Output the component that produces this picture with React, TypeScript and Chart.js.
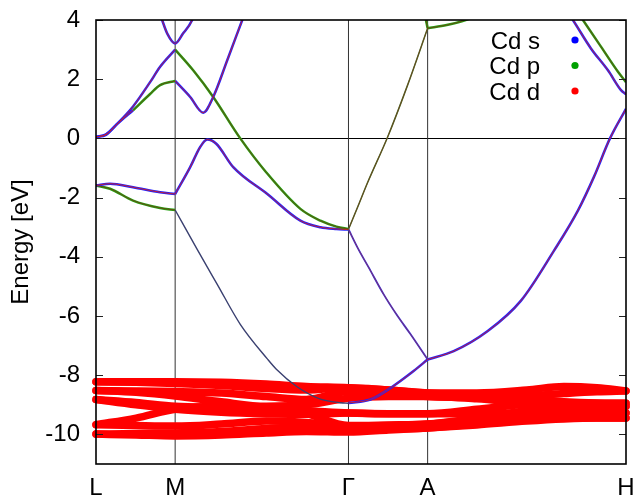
import React, { useEffect, useRef } from 'react';
import { Chart, registerables } from 'chart.js';

Chart.register(...registerables);

const FONT = "'Liberation Sans', Arial, Helvetica, sans-serif";

// symmetry points along the k-path
const symLabels = ['L', 'M', 'Γ', 'A', 'H'];
const symK = [0, 79, 252, 331, 529];
const yTicks = [4, 2, 0, -2, -4, -6, -8, -10];

const legendLabels = ['Cd s', 'Cd p', 'Cd d'];
const legendColors = ['#0000ff', '#00a000', '#ff0000'];

// thin (s/p character) bands, [k, E]
const bandA_L1 = [[0, 0.05], [10, 0.12], [21, 0.48], [37, 0.95]];
const bandA_L2 = [[37, 0.95], [54, 1.5], [64, 1.8], [79, 1.94]];
const bandA_MG = [[79, 1.94], [94, 1.4], [107, 0.87], [117, 1.4], [131, 2.64], [146, 4.0], [150, 4.36]];
const bandB_LM = [[0, 0.05], [10, 0.14], [21, 0.49], [37, 1.08], [54, 1.9], [64, 2.42], [79, 3.0]];
const bandB_MG = [[79, 3.0], [97, 2.3], [117, 1.4], [144, 0.0], [170, -1.15], [204, -2.38], [224, -2.78], [240, -2.98], [252, -3.06]];
const bandC_LM = [[0, -1.59], [14, -1.53], [37, -1.65], [64, -1.82], [79, -1.88]];
const bandC_MG = [[79, -1.88], [94, -0.97], [104, -0.29], [111, -0.04], [120, -0.18], [137, -0.97], [171, -1.88], [204, -2.78], [224, -3.0], [240, -3.06], [252, -3.08]];
const bandD_LM = [[0, -1.59], [14, -1.7], [37, -2.1], [64, -2.35], [79, -2.42]];
const bandD_MG = [[79, -2.42], [101, -3.75], [121, -4.93], [144, -6.28], [171, -7.45], [180, -7.8], [201, -8.4], [222, -8.78], [244, -8.93], [252, -8.95]];
const bandE_GA = [[252, -3.07], [262, -2.25], [271, -1.5], [291, 0.04], [311, 1.8], [331, 3.72]];
const bandE_AH = [[331, 3.72], [350, 3.83], [369, 4.0], [390, 4.3]];
const bandF_A = [[327.5, 4.3], [331, 3.72]];
const bandG_GA = [[252, -3.07], [262, -3.75], [272, -4.35], [287, -5.26], [300, -5.95], [314, -6.62], [331, -7.47]];
const bandH_GA = [[252, -8.94], [274, -8.82], [294, -8.43], [317, -7.86], [331, -7.47]];
const bandI_AH = [[331, -7.47], [357, -7.19], [391, -6.51], [424, -5.49], [457, -3.8], [481, -2.44], [497, -1.3], [513, 0.0], [529, 1.0]];
const bandJ_H = [[470, 4.3], [476, 4.0], [494, 3.04], [511, 2.3], [524, 1.63], [529, 1.49]];
const bandK_H = [[480, 4.3], [486, 4.0], [504, 3.1], [521, 2.25], [529, 1.9]];
const bandL_M = [[62, 4.4], [66, 4.0], [71, 3.55], [79, 3.21], [87, 3.55], [96, 4.0], [100, 4.4]];

// Cd d bands (fat red), sampled at common k nodes
const dK = [0, 40, 79, 125, 170, 210, 252, 292, 331, 380, 430, 467, 500, 529];
const d1 = [-8.22, -8.22, -8.22, -8.24, -8.3, -8.38, -8.42, -8.5, -8.6, -8.6, -8.5, -8.38, -8.42, -8.53];
const d2 = [-8.22, -8.24, -8.28, -8.35, -8.45, -8.5, -8.42, -8.5, -8.6, -8.7, -8.82, -8.9, -8.94, -8.95];
const d3 = [-8.52, -8.53, -8.55, -8.6, -8.72, -8.82, -8.55, -8.62, -8.72, -8.75, -8.7, -8.62, -8.56, -8.53];
const d4 = [-8.52, -8.58, -8.7, -8.9, -9.05, -9.0, -8.78, -8.72, -8.72, -8.8, -8.95, -9.02, -9.05, -9.05];
const d5 = [-8.82, -8.92, -9.05, -9.1, -9.15, -9.2, -9.28, -9.3, -9.3, -9.15, -8.98, -8.95, -8.95, -8.95];
const d6 = [-8.82, -9.0, -9.15, -9.25, -9.3, -9.32, -9.28, -9.3, -9.3, -9.3, -9.28, -9.28, -9.28, -9.28];
const d7 = [-9.67, -9.45, -9.15, -9.05, -9.1, -9.3, -9.7, -9.68, -9.65, -9.45, -9.2, -9.1, -9.07, -9.05];
const d8 = [-9.67, -9.7, -9.72, -9.65, -9.55, -9.6, -9.72, -9.7, -9.65, -9.5, -9.35, -9.3, -9.28, -9.28];
const d9 = [-9.99, -9.97, -9.95, -9.9, -9.8, -9.75, -9.88, -9.82, -9.78, -9.65, -9.5, -9.45, -9.45, -9.45];
const d10 = [-9.99, -10.02, -10.05, -10.02, -9.95, -9.9, -9.92, -9.85, -9.78, -9.68, -9.55, -9.48, -9.45, -9.45];

const thinBands = [
  { pts: bandA_L1, style: 'blue' },
  { pts: bandA_L2, style: 'green' },
  { pts: bandA_MG, style: 'blue' },
  { pts: bandB_LM, style: 'blue' },
  { pts: bandB_MG, style: 'green' },
  { pts: bandC_LM, style: 'blue' },
  { pts: bandC_MG, style: 'blue' },
  { pts: bandD_LM, style: 'green' },
  { pts: bandD_MG, style: 'dark' },
  { pts: bandE_GA, style: 'olive' },
  { pts: bandE_AH, style: 'green' },
  { pts: bandF_A, style: 'green' },
  { pts: bandG_GA, style: 'blueThin' },
  { pts: bandH_GA, style: 'blue' },
  { pts: bandI_AH, style: 'blue' },
  { pts: bandJ_H, style: 'blue' },
  { pts: bandK_H, style: 'green' },
  { pts: bandL_M, style: 'blue' },
];
const dBands = [d1, d2, d3, d4, d5, d6, d7, d8, d9, d10];

const styles: Record<string, { outer: string; outerW: number; inner: string | null; innerW: number }> = {
  blue: { outer: '#2020ff', outerW: 2.5, inner: '#d02020', innerW: 0.9 },
  blueThin: { outer: '#3030e0', outerW: 1.8, inner: '#a03040', innerW: 0.7 },
  green: { outer: '#22a011', outerW: 2.5, inner: '#704010', innerW: 0.9 },
  dark: { outer: '#3a4070', outerW: 1.4, inner: null, innerW: 0 },
  olive: { outer: '#3c6a20', outerW: 1.5, inner: '#8a3020', innerW: 0.6 },
};

function buildDatasets() {
  const sets: any[] = [];
  const common = {
    type: 'line',
    pointRadius: 0,
    pointHoverRadius: 0,
    fill: false,
    cubicInterpolationMode: 'monotone',
  };
  thinBands.forEach((b) => {
    const st = styles[b.style];
    const data = b.pts.map(([x, y]) => ({ x, y }));
    sets.push({ ...common, data, borderColor: st.outer, borderWidth: st.outerW, order: 1 });
    if (st.inner) sets.push({ ...common, data, borderColor: st.inner, borderWidth: st.innerW, order: 0 });
  });
  dBands.forEach((arr) => {
    sets.push({
      ...common,
      data: arr.map((y, i) => ({ x: dK[i], y })),
      borderColor: '#ff0000',
      borderWidth: 7.5,
      borderCapStyle: 'round',
      borderJoinStyle: 'round',
      clip: { left: 5, right: 5, top: 0, bottom: 0 },
      order: 2,
    });
  });
  return sets;
}

const framePlugin = {
  id: 'bandFrame',
  beforeDatasetsDraw(chart: any) {
    const { ctx, chartArea: a, scales } = chart;
    const x = scales.x;
    const y = scales.y;
    ctx.save();
    ctx.strokeStyle = '#000';
    ctx.lineWidth = 1;
    const y0 = Math.round(y.getPixelForValue(0)) + 0.5;
    ctx.beginPath();
    ctx.moveTo(a.left, y0);
    ctx.lineTo(a.right, y0);
    ctx.stroke();
    ctx.strokeStyle = '#333';
    symK.slice(1, -1).forEach((k) => {
      const px = x.getPixelForValue(k);
      ctx.beginPath();
      ctx.moveTo(px, a.top);
      ctx.lineTo(px, a.bottom);
      ctx.stroke();
    });
    ctx.restore();
  },
  afterDatasetsDraw(chart: any) {
    const { ctx, chartArea: a, scales } = chart;
    const y = scales.y;
    ctx.save();
    ctx.strokeStyle = '#222';
    ctx.lineWidth = 1.2;
    yTicks.forEach((v) => {
      const py = Math.round(y.getPixelForValue(v)) + 0.5;
      ctx.beginPath();
      ctx.moveTo(a.left, py);
      ctx.lineTo(a.left + 7, py);
      ctx.moveTo(a.right, py);
      ctx.lineTo(a.right - 7, py);
      ctx.stroke();
    });
    ctx.strokeStyle = '#000';
    ctx.lineWidth = 1.6;
    ctx.strokeRect(a.left, a.top, a.right - a.left, a.bottom - a.top);
    // legend
    ctx.font = `24px ${FONT}`;
    ctx.textAlign = 'right';
    ctx.textBaseline = 'alphabetic';
    legendLabels.forEach((t, i) => {
      const yy = a.top + 20 + i * 25.5;
      ctx.fillStyle = '#000';
      ctx.fillText(t, a.right - 86, yy + 8.5);
      ctx.beginPath();
      ctx.arc(a.right - 51, yy, 3.6, 0, Math.PI * 2);
      ctx.fillStyle = legendColors[i];
      ctx.fill();
    });
    ctx.restore();
  },
};

export default function App() {
  const ref = useRef<HTMLCanvasElement>(null);
  useEffect(() => {
    document.body.style.margin = '0';
    const chart = new Chart(ref.current as HTMLCanvasElement, {
      type: 'line',
      data: { datasets: buildDatasets() },
      options: {
        responsive: false,
        animation: false,
        devicePixelRatio: 1,
        layout: { padding: { left: 0, top: 20, right: 9, bottom: 0 } },
        plugins: { legend: { display: false }, tooltip: { enabled: false } },
        scales: {
          x: {
            type: 'linear',
            min: 0,
            max: 529,
            grid: { display: false, drawTicks: false },
            border: { display: false },
            afterBuildTicks: (s: any) => {
              s.ticks = symK.map((v) => ({ value: v }));
            },
            afterFit: (s: any) => {
              s.height = 34;
              s.paddingLeft = 0;
              s.paddingRight = 0;
            },
            ticks: {
              autoSkip: false,
              maxRotation: 0,
              padding: 10,
              color: '#000',
              font: { family: FONT, size: 24 },
              callback: (v: any) => {
                const i = symK.indexOf(Number(v));
                return i >= 0 ? symLabels[i] : '';
              },
            },
          },
          y: {
            type: 'linear',
            min: -11,
            max: 4,
            grid: { display: false, drawTicks: false },
            border: { display: false },
            afterBuildTicks: (s: any) => {
              s.ticks = yTicks.map((v) => ({ value: v }));
            },
            afterFit: (s: any) => {
              s.width = 96;
              s.paddingTop = 0;
              s.paddingBottom = 0;
            },
            ticks: {
              padding: 16,
              color: '#000',
              font: { family: FONT, size: 24 },
              callback: (v: any) => String(v),
            },
            title: {
              display: true,
              text: 'Energy [eV]',
              color: '#000',
              font: { family: FONT, size: 24 },
              padding: { top: 7, bottom: 0 },
            },
          },
        },
      } as any,
      plugins: [framePlugin],
    } as any);
    return () => chart.destroy();
  }, []);
  return (
    <div style={{ position: 'fixed', left: 0, top: 0, width: 635, height: 498, background: '#fff' }}>
      <canvas ref={ref} width={635} height={498} style={{ display: 'block', width: 635, height: 498 }} />
    </div>
  );
}
